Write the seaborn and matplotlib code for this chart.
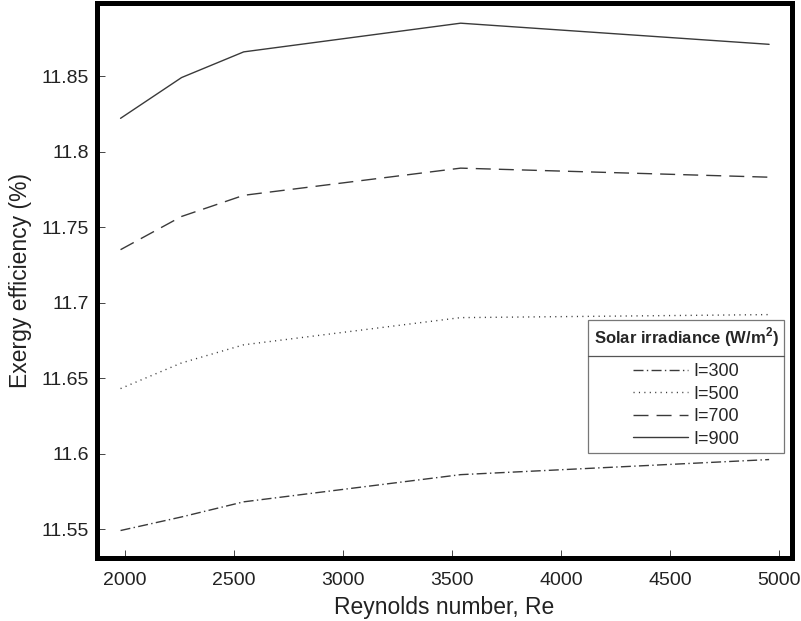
import numpy as np
import pandas as pd
import matplotlib
matplotlib.use("Agg")
import matplotlib.pyplot as plt
import seaborn as sns
from matplotlib.lines import Line2D

# ---- data ----
reynolds = [1980, 2260, 2545, 3540, 4955]
eff_300 = [11.549, 11.558, 11.568, 11.586, 11.596]
eff_500 = [11.643, 11.660, 11.672, 11.690, 11.692]
eff_700 = [11.735, 11.757, 11.771, 11.789, 11.783]
eff_900 = [11.822, 11.849, 11.866, 11.885, 11.871]
series_labels = ["I=300", "I=500", "I=700", "I=900"]
x_ticks = [2000, 2500, 3000, 3500, 4000, 4500, 5000]
y_ticks = [11.55, 11.6, 11.65, 11.7, 11.75, 11.8, 11.85]
y_tick_labels = ["11.55", "11.6", "11.65", "11.7", "11.75", "11.8", "11.85"]
x_label = "Reynolds number, Re"
y_label = "Exergy efficiency (%)"
legend_title = r"Solar irradiance (W/m$^\mathbf{2}$)"

# ---- style ----
sns.set_style("white")
plt.rcParams["font.family"] = ["Liberation Sans", "DejaVu Sans"]
plt.rcParams["mathtext.fontset"] = "custom"
plt.rcParams["mathtext.rm"] = "Liberation Sans"
plt.rcParams["mathtext.bf"] = "Liberation Sans:bold"
plt.rcParams["lines.scale_dashes"] = False

line_color = "#3a3a3a"
dash_map = {
    "I=300": (7.2, 2.4, 1.0, 2.4),
    "I=500": (0.8, 3.1),
    "I=700": (10.8, 5.8),
    "I=900": "",
}

df = pd.DataFrame({
    "Re": reynolds * 4,
    "eff": eff_300 + eff_500 + eff_700 + eff_900,
    "I": [lab for lab in series_labels for _ in reynolds],
})

fig = plt.figure(figsize=(8.01, 6.21), dpi=100)
ax = fig.add_axes([97 / 801, 1 - 558 / 621, 695 / 801, 555.5 / 621])

sns.lineplot(data=df, x="Re", y="eff", style="I", style_order=series_labels,
             dashes=dash_map, color=line_color, linewidth=1.0,
             estimator=None, legend=False, ax=ax)

ax.set_xlim(1872, 5060)
ax.set_ylim(11.5308, 11.8987)
ax.set_xticks(x_ticks)
ax.set_xticklabels([str(t) for t in x_ticks])
ax.set_yticks(y_ticks)
ax.set_yticklabels(y_tick_labels)

for sp in ax.spines.values():
    sp.set_linewidth(3.6)
    sp.set_color("black")

ax.tick_params(axis="both", which="major", direction="in", length=6, width=0.7,
               color="#444444", labelsize=14, labelcolor="#222222",
               top=False, right=False, bottom=True, left=True)
ax.tick_params(axis="x", pad=10)
ax.tick_params(axis="y", pad=6)

ax.set_xlabel(x_label, fontsize=16.5, color="#222222", labelpad=5)
ax.set_ylabel(y_label, fontsize=16.5, color="#222222", labelpad=7)

# ---- legend ----
handles = []
for lab in series_labels:
    h = Line2D([0], [0], color=line_color, linewidth=1.0, linestyle="-")
    if dash_map[lab] != "":
        h.set_dashes(dash_map[lab])
    handles.append(h)

leg = ax.legend(handles, series_labels, title=legend_title,
                loc="lower right", bbox_to_anchor=(0.9885, 0.189),
                borderaxespad=0, fontsize=13,
                title_fontproperties={"weight": "bold", "size": 12},
                frameon=True, fancybox=False, edgecolor="#555555",
                handlelength=3.0, handletextpad=0.3, labelspacing=0.3,
                borderpad=0.3)
leg.get_frame().set_linewidth(0.9)
leg._legend_box.sep = 10

fig.canvas.draw()
renderer = fig.canvas.get_renderer()
frame_bb = leg.legendPatch.get_window_extent(renderer)
title_bb = leg.get_title().get_window_extent(renderer)
text0_bb = leg.get_texts()[0].get_window_extent(renderer)
y_sep = (title_bb.y0 + text0_bb.y1) / 2
inv = fig.transFigure.inverted()
(x0f, yf), (x1f, _) = inv.transform([(frame_bb.x0, y_sep), (frame_bb.x1, y_sep)])
fig.add_artist(Line2D([x0f, x1f], [yf, yf], transform=fig.transFigure,
                      color="#555555", linewidth=0.9, zorder=10))

fig.savefig("out.png", dpi=100)
